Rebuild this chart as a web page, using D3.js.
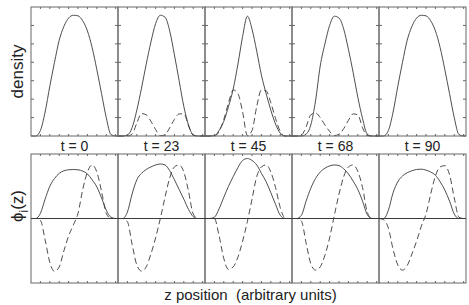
<!DOCTYPE html>
<html>
<head>
<meta charset="utf-8">
<script src="https://cdn.jsdelivr.net/npm/d3@7"></script>
<style>
  body { margin: 0; background: #fff; }
  text { font-family: "Liberation Sans", Arial, sans-serif; fill: #222; }
</style>
</head>
<body>
<svg id="chart"></svg>
<script>
// times shown under each column
const times = [0, 23, 45, 68, 90];

// z positions (same grid for every panel)
const zGrid = [0, 0.5, 1, 1.5, 2, 2.5, 3, 3.5, 4, 4.5, 5, 5.5, 6, 6.5, 7, 7.5, 8, 8.5, 9, 9.25];

// top row: density, solid + dashed (no dashed at t=0 and t=90)
const densSolid = [
    [0, 0, 0.3, 1.3, 2.7, 4.0, 5.2, 5.95, 6.4, 6.55, 6.52, 6.25, 5.7, 4.8, 3.6, 2.3, 1.0, 0.08, 0, 0],
    [0, 0, 0.05, 0.45, 1.4, 2.6, 3.9, 5.1, 6.1, 6.55, 6.45, 5.7, 4.4, 3.0, 1.6, 0.6, 0.05, 0, 0, 0],
    [0, 0, 0.02, 0.3, 0.8, 1.6, 2.55, 3.9, 5.4, 6.5, 5.8, 4.6, 3.3, 2.3, 1.4, 0.65, 0.15, 0, 0, 0],
    [0, 0, 0, 0.1, 0.6, 1.9, 3.8, 5.0, 6.0, 6.5, 6.4, 5.8, 4.7, 3.45, 2.1, 0.95, 0.1, 0, 0, 0],
    [0, 0, 0.3, 1.3, 2.7, 4.0, 5.2, 5.95, 6.4, 6.55, 6.52, 6.25, 5.7, 4.8, 3.6, 2.3, 1.0, 0.08, 0, 0]
];
const densDashed = [
    null,
    [0, 0, 0, 0.1, 0.7, 1.22, 1.15, 0.8, 0.35, 0.02, 0.06, 0.45, 0.9, 1.2, 1.2, 0.55, 0.05, 0, 0, 0],
    [0, 0, 0, 0.25, 0.9, 1.8, 2.5, 2.3, 1.3, 0.02, 0.3, 1.6, 2.5, 2.45, 1.8, 0.95, 0.25, 0, 0, 0],
    [0, 0, 0.05, 0.5, 1.15, 1.25, 1.0, 0.6, 0.25, 0.02, 0.1, 0.4, 0.85, 1.2, 1.15, 0.45, 0.02, 0, 0, 0],
    null
];

// bottom row: phi_i(z), solid + dashed
const phiSolid = [
    [0, 0, 0.08, 0.3, 0.5, 0.62, 0.7, 0.74, 0.755, 0.76, 0.755, 0.735, 0.69, 0.6, 0.49, 0.32, 0.13, 0.02, 0, 0],
    [0, 0, 0.1, 0.38, 0.6, 0.7, 0.76, 0.8, 0.83, 0.845, 0.83, 0.74, 0.6, 0.45, 0.3, 0.14, 0.03, 0, 0, 0],
    [0, 0, 0.02, 0.15, 0.33, 0.5, 0.65, 0.79, 0.9, 0.93, 0.9, 0.83, 0.7, 0.57, 0.4, 0.22, 0.05, 0, 0, 0],
    [0, 0, 0.05, 0.27, 0.47, 0.62, 0.72, 0.78, 0.815, 0.83, 0.82, 0.77, 0.69, 0.58, 0.45, 0.27, 0.06, 0, 0, 0],
    [0, 0, 0.13, 0.4, 0.57, 0.66, 0.71, 0.74, 0.76, 0.765, 0.75, 0.72, 0.67, 0.57, 0.44, 0.27, 0.07, 0, 0, 0]
];
const phiDashed = [
    [0, 0, -0.03, -0.33, -0.68, -0.82, -0.75, -0.5, -0.27, -0.1, 0.08, 0.45, 0.72, 0.83, 0.72, 0.42, 0.08, 0, 0, 0],
    [0, 0, -0.05, -0.4, -0.72, -0.815, -0.75, -0.55, -0.3, 0.0, 0.33, 0.63, 0.8, 0.83, 0.72, 0.42, 0.07, 0, 0, 0],
    [0, 0, 0, -0.27, -0.62, -0.79, -0.75, -0.6, -0.35, -0.05, 0.3, 0.65, 0.8, 0.83, 0.72, 0.48, 0.17, 0.01, 0, 0],
    [0, 0, -0.04, -0.38, -0.7, -0.8, -0.75, -0.57, -0.3, 0.05, 0.38, 0.65, 0.8, 0.83, 0.73, 0.48, 0.1, 0, 0, 0],
    [0, -0.02, -0.15, -0.48, -0.72, -0.8, -0.73, -0.55, -0.35, -0.12, 0.07, 0.38, 0.66, 0.8, 0.82, 0.68, 0.32, 0.02, 0, 0]
];

// tick values
const zTicks = [1, 2, 3, 4, 5, 6, 7, 8, 9];
const densTicks = [1, 2, 3, 4, 5, 6];

const W = 469, H = 305;
const left = 31, panelW = 87;
const top1 = 7, top2 = 154, panelH = 129;
const lineColor = "#3a3a3a", frameColor = "#666";

const svg = d3.select("#chart").attr("width", W).attr("height", H);

const x = d3.scaleLinear().domain([0, 9.25]).range([0, panelW]);
const yDens = d3.scaleLinear().domain([0, 7]).range([top1 + panelH, top1]);
const yPhi = d3.scaleLinear().domain([-1, 1]).range([top2 + panelH, top2]);

function drawCurve(g, vals, yScale, dashed) {
    const line = d3.line()
        .x((d, i) => x(zGrid[i]))
        .y(d => yScale(d))
        .curve(d3.curveMonotoneX);
    g.append("path")
        .attr("d", line(vals))
        .attr("fill", "none")
        .attr("stroke", lineColor)
        .attr("stroke-width", 0.9)
        .attr("stroke-dasharray", dashed ? "6,3.5" : null);
}

// little inward ticks on the frame of one panel
function drawFrameTicks(g, yTop, yScale, yTicks) {
    const yBot = yTop + panelH;
    zTicks.forEach(t => {
        g.append("line").attr("x1", x(t)).attr("x2", x(t))
            .attr("y1", yTop).attr("y2", yTop + 2)
            .attr("stroke", frameColor);
        g.append("line").attr("x1", x(t)).attr("x2", x(t))
            .attr("y1", yBot).attr("y2", yBot - 2)
            .attr("stroke", frameColor);
    });
    yTicks.forEach(t => {
        g.append("line").attr("x1", 0).attr("x2", 3)
            .attr("y1", yScale(t)).attr("y2", yScale(t))
            .attr("stroke", frameColor);
        g.append("line").attr("x1", panelW).attr("x2", panelW - 3)
            .attr("y1", yScale(t)).attr("y2", yScale(t))
            .attr("stroke", frameColor);
    });
}

times.forEach((t, i) => {
    const g = svg.append("g").attr("transform", `translate(${left + i * panelW},0)`);

    // top panel
    drawFrameTicks(g, top1, yDens, densTicks);
    drawCurve(g, densSolid[i], yDens, false);
    if (densDashed[i]) drawCurve(g, densDashed[i], yDens, true);

    // bottom panel
    drawFrameTicks(g, top2, yPhi, []);
    drawCurve(g, phiSolid[i], yPhi, false);
    drawCurve(g, phiDashed[i], yPhi, true);

    // frames
    [top1, top2].forEach(ty => {
        g.append("rect")
            .attr("x", 0).attr("y", ty)
            .attr("width", panelW).attr("height", panelH)
            .attr("fill", "none")
            .attr("stroke", frameColor)
            .attr("stroke-width", 1);
    });

    // time label
    g.append("text")
        .attr("x", panelW / 2)
        .attr("y", 151)
        .attr("text-anchor", "middle")
        .style("font-size", "14px")
        .text(`t = ${t}`);
});

// zero line across the bottom row
svg.append("line")
    .attr("x1", left).attr("x2", left + 5 * panelW)
    .attr("y1", yPhi(0)).attr("y2", yPhi(0))
    .attr("stroke", lineColor);

// axis labels
svg.append("text")
    .attr("transform", `translate(23,${top1 + panelH / 2}) rotate(-90)`)
    .attr("text-anchor", "middle")
    .style("font-size", "17px")
    .text("density");

const phiLabel = svg.append("text")
    .attr("transform", `translate(23,206) rotate(-90)`)
    .attr("text-anchor", "middle")
    .style("font-size", "17px");
phiLabel.append("tspan").text("ϕ");
phiLabel.append("tspan").attr("dy", 5).style("font-size", "12px").text("i");
phiLabel.append("tspan").attr("dy", -5).text("(z)");

svg.append("text")
    .attr("x", left + 5 * panelW / 2 + 2)
    .attr("y", 300)
    .attr("text-anchor", "middle")
    .style("font-size", "15px")
    .style("white-space", "pre")
    .text("z position  (arbitrary units)");
</script>
</body>
</html>
